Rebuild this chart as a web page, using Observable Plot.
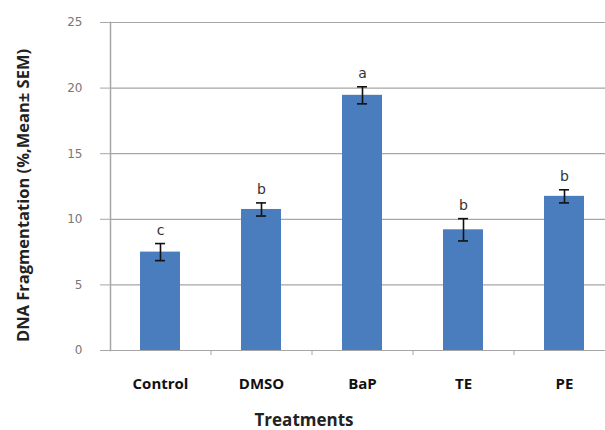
<!DOCTYPE html>
<html>
<head>
<meta charset="utf-8">
<script src="https://cdn.jsdelivr.net/npm/d3@7"></script>
<script src="https://cdn.jsdelivr.net/npm/@observablehq/plot@0.6"></script>
<style>
  html, body { margin: 0; padding: 0; background: #fff; }
  #chart svg { display: block; }
</style>
</head>
<body>
<div id="chart"></div>
<script>
const categories = ["Control", "DMSO", "BaP", "TE", "PE"];
const means = [7.5, 10.75, 19.45, 9.2, 11.75];
const sems = [0.65, 0.5, 0.65, 0.85, 0.5];
const letters = ["c", "b", "a", "b", "b"];
const yTicks = [0, 5, 10, 15, 20, 25];
const yTitle = "DNA Fragmentation (%,Mean± SEM)";
const xTitle = "Treatments";

const data = categories.map((c, i) => ({cat: c, mean: means[i], sem: sems[i], letter: letters[i]}));

const xRange = [110, 615];
const step = (xRange[1] - xRange[0]) / categories.length;

const chart = Plot.plot({
  width: 605,
  height: 430,
  marginLeft: 110,
  marginRight: 0,
  marginTop: 22,
  marginBottom: 80,
  style: {fontFamily: "'Open Sans', sans-serif", background: "#fff", overflow: "visible"},
  x: {domain: categories, range: xRange, paddingInner: 0.6, paddingOuter: 0.3, label: null},
  y: {domain: [0, 25], label: null},
  marks: [
    Plot.ruleY(yTicks.slice(1), {stroke: "#a6a6a6", strokeWidth: 1.2}),
    Plot.ruleY([0], {stroke: "#a6a6a6", strokeWidth: 1.2}),
    Plot.frame({anchor: "left", stroke: "#a6a6a6", strokeWidth: 1.5}),
    Plot.ruleX(categories.slice(1), {x: d => d, y1: 0, y2: 0, dx: -step / 2, insetBottom: -5, stroke: "#a6a6a6"}),
    Plot.barY(data, {x: "cat", y: "mean", fill: "#4a7dbe"}),
    Plot.ruleX(data, {x: "cat", y1: d => d.mean - d.sem, y2: d => d.mean + d.sem, stroke: "#111", strokeWidth: 1.6}),
    Plot.tickY(data, {x: "cat", y: d => d.mean + d.sem, stroke: "#111", strokeWidth: 1.6, insetLeft: 15, insetRight: 15}),
    Plot.tickY(data, {x: "cat", y: d => d.mean - d.sem, stroke: "#111", strokeWidth: 1.6, insetLeft: 15, insetRight: 15}),
    Plot.text(data, {x: "cat", y: d => d.mean + d.sem, text: "letter", dy: -13, fontSize: 14, fill: "#333", fontFamily: "'DejaVu Sans', sans-serif"}),
    Plot.axisY({ticks: yTicks, tickSize: 10, tickPadding: 18, stroke: "#a6a6a6", fontSize: 12, fill: "#777", fontFamily: "'DejaVu Sans', sans-serif", label: null}),
    Plot.axisX({tickSize: 0, tickPadding: 28, fontSize: 15, fontWeight: "bold", fill: "#111", label: null}),
    Plot.text([xTitle], {frameAnchor: "bottom", dy: 75, dx: -54, fontSize: 17, fontWeight: "bold", fill: "#222"}),
    Plot.text([yTitle], {frameAnchor: "left", textAnchor: "middle", rotate: -90, dx: -87, dy: 9, fontSize: 16.5, fontWeight: "bold", fill: "#222"})
  ]
});
document.getElementById("chart").appendChild(chart);
</script>
</body>
</html>
